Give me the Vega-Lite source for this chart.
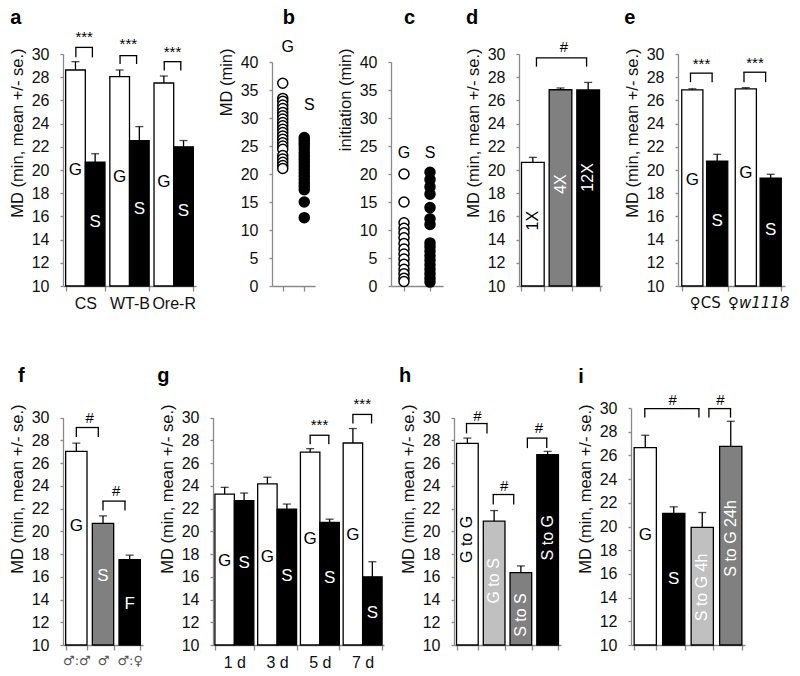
{
"$schema":"https://vega.github.io/schema/vega-lite/v6.json",
"padding":{"left":9,"top":7,"right":5,"bottom":5},
"background":"white",
"config":{
 "font":"Liberation Sans",
 "view":{"stroke":null},
 "axis":{"labelFont":"Liberation Sans","titleFont":"Liberation Sans","labelFontSize":16,"titleFontSize":16.5,"titleFontWeight":"normal","labelColor":"#111","titleColor":"#111","domainColor":"#8a8a8a","tickColor":"#8a8a8a","domainWidth":1.3,"tickWidth":1.3,"grid":false,"labelOverlap":false},
 "axisQuantitative":{"labelOverlap":false},
 "axisY":{"tickSize":3,"labelPadding":11,"titlePadding":6,"labelOverlap":false},
 "axisX":{"tickSize":5,"labelPadding":4,"titlePadding":4,"labelAngle":0},
 "text":{"font":"Liberation Sans"}
},
"resolve":{"scale":{"fill":"independent","color":"independent","xOffset":"independent"}},
"spacing":55,
"vconcat":[
{"hconcat":[
 {"width":133,"height":232,
  "layer":[
   {"data":{"values":[
     {"cat":"CS","grp":"G","v":28.62,"e":29.34,"ly":19.96},
     {"cat":"CS","grp":"S","v":20.67,"e":21.4,"ly":15.5},
     {"cat":"WT-B","grp":"G","v":28.05,"e":28.62,"ly":19.4},
     {"cat":"WT-B","grp":"S","v":22.54,"e":23.74,"ly":16.65},
     {"cat":"Ore-R","grp":"G","v":27.5,"e":28.1,"ly":19.0},
     {"cat":"Ore-R","grp":"S","v":22.0,"e":22.54,"ly":16.5}]},
    "encoding":{
     "x":{"field":"cat","type":"nominal","scale":{"domain":["CS","WT-B","Ore-R"],"paddingInner":0.11,"paddingOuter":0.06},"axis":{"title":null,"tickBand":"extent"}},
     "xOffset":{"field":"grp","type":"nominal","scale":{"domain":["G","S"],"paddingInner":0,"paddingOuter":0}}},
    "layer":[
     {"mark":{"type":"bar","stroke":"black","strokeWidth":1.3},
      "encoding":{"y":{"field":"v","type":"quantitative","stack":null,"scale":{"domain":[10,30],"nice":false,"zero":false},"axis":{"tickCount":10,"labelOverlap":false,"title":"MD (min, mean +/- se.)","titleAnchor":"end","titleY":-6}},
       "y2":{"datum":10},
       "fill":{"field":"grp","type":"nominal","scale":{"domain":["G","S"],"range":["#ffffff","#000000"]},"legend":null}}},
     {"mark":{"type":"rule","color":"black","strokeWidth":1.3},"encoding":{"y":{"field":"v","type":"quantitative"},"y2":{"field":"e"}}},
     {"mark":{"type":"tick","color":"black","thickness":1.3,"size":8},"encoding":{"y":{"field":"e","type":"quantitative"}}},
     {"mark":{"type":"text","fontSize":17},"encoding":{"y":{"field":"ly","type":"quantitative"},"text":{"field":"grp"},"color":{"field":"grp","type":"nominal","scale":{"domain":["G","S"],"range":["#000000","#ffffff"]},"legend":null}}}
    ]},
   {"data":{"values":[
     {"cat":"CS","top":30.57,"bot":29.71,"sy":31.43},
     {"cat":"WT-B","top":29.86,"bot":29.14,"sy":30.86},
     {"cat":"Ore-R","top":29.34,"bot":28.57,"sy":30.14}]},
    "layer":[
     {"mark":{"type":"rule","color":"black","strokeWidth":1.3,"strokeCap":"square"},"encoding":{"x":{"field":"cat","type":"nominal","bandPosition":0.26,"title":null},"x2":{"field":"cat","bandPosition":0.68},"y":{"field":"top","type":"quantitative"}}},
     {"mark":{"type":"rule","color":"black","strokeWidth":1.3},"encoding":{"x":{"field":"cat","type":"nominal","bandPosition":0.26,"title":null},"y":{"field":"top","type":"quantitative"},"y2":{"field":"bot"}}},
     {"mark":{"type":"rule","color":"black","strokeWidth":1.3},"encoding":{"x":{"field":"cat","type":"nominal","bandPosition":0.68,"title":null},"y":{"field":"top","type":"quantitative"},"y2":{"field":"bot"}}},
     {"mark":{"type":"text","fontSize":15,"text":"***"},"encoding":{"x":{"field":"cat","type":"nominal","bandPosition":0.47,"title":null},"y":{"field":"sy","type":"quantitative"}}}
    ]},
   {"data":{"values":[{"lab":"a"}]},
    "mark":{"type":"text","fontSize":20,"fontWeight":"bold","align":"left","baseline":"alphabetic"},
    "encoding":{"text":{"field":"lab"},"x":{"datum":"CS","type":"nominal","bandPosition":-1.41},"y":{"datum":32.61,"type":"quantitative"}}}
  ]},
 {"width":43,"height":232,
  "layer":[
   {"data":{"values":[
     {"grp":"G","v":36.2},{"grp":"G","v":33.5},{"grp":"G","v":33.0},{"grp":"G","v":32.3},{"grp":"G","v":31.7},{"grp":"G","v":31.0},{"grp":"G","v":30.4},{"grp":"G","v":29.8},{"grp":"G","v":29.2},{"grp":"G","v":28.6},{"grp":"G","v":28.0},{"grp":"G","v":27.4},{"grp":"G","v":26.8},{"grp":"G","v":26.2},{"grp":"G","v":25.6},{"grp":"G","v":25.0},{"grp":"G","v":24.4},{"grp":"G","v":23.3},{"grp":"G","v":22.7},{"grp":"G","v":22.1},{"grp":"G","v":21.5},{"grp":"G","v":21.0},
     {"grp":"S","v":26.5},{"grp":"S","v":26.0},{"grp":"S","v":25.5},{"grp":"S","v":25.0},{"grp":"S","v":24.4},{"grp":"S","v":23.8},{"grp":"S","v":23.2},{"grp":"S","v":22.6},{"grp":"S","v":22.0},{"grp":"S","v":21.4},{"grp":"S","v":20.8},{"grp":"S","v":20.2},{"grp":"S","v":19.6},{"grp":"S","v":19.0},{"grp":"S","v":18.4},{"grp":"S","v":17.8},{"grp":"S","v":17.2},{"grp":"S","v":15.0},{"grp":"S","v":12.2}]},
    "mark":{"type":"point","shape":"circle","filled":true,"stroke":"black","strokeWidth":1.5,"size":100,"opacity":1},
    "encoding":{
     "x":{"field":"grp","type":"nominal","scale":{"domain":["G","S"],"paddingInner":0,"paddingOuter":0.5},"axis":{"labels":false,"title":"CS"}},
     "y":{"field":"v","type":"quantitative","scale":{"domain":[0,40],"nice":false,"range":[232,8]},"axis":{"tickCount":8,"labelOverlap":false,"title":"MD (min)","titleAnchor":"end","titleY":-6}},
     "fill":{"field":"grp","type":"nominal","scale":{"domain":["G","S"],"range":["#ffffff","#000000"]},"legend":null}}},
   {"data":{"values":[{"grp":"G","ly":42.6},{"grp":"S","ly":32.3}]},
    "mark":{"type":"text","fontSize":16,"dx":5},
    "encoding":{"x":{"field":"grp","type":"nominal","title":null},"y":{"field":"ly","type":"quantitative"},"text":{"field":"grp"}}},
   {"data":{"values":[{"lab":"b"}]},
    "mark":{"type":"text","fontSize":20,"fontWeight":"bold","align":"left","baseline":"alphabetic"},
    "encoding":{"text":{"field":"lab"},"x":{"datum":"G","type":"nominal","bandPosition":-4.27},"y":{"datum":46.84,"type":"quantitative"}}}
  ]},
 {"width":52,"height":232,
  "layer":[
   {"data":{"values":[
     {"grp":"G","v":20.0},{"grp":"G","v":15.0},{"grp":"G","v":11.3},{"grp":"G","v":10.3},{"grp":"G","v":9.5},{"grp":"G","v":8.6},{"grp":"G","v":7.6},{"grp":"G","v":6.6},{"grp":"G","v":5.7},{"grp":"G","v":4.8},{"grp":"G","v":3.9},{"grp":"G","v":3.0},{"grp":"G","v":2.2},{"grp":"G","v":1.4},{"grp":"G","v":0.8},
     {"grp":"S","v":20.3},{"grp":"S","v":19.0},{"grp":"S","v":17.7},{"grp":"S","v":16.4},{"grp":"S","v":14.0},{"grp":"S","v":12.0},{"grp":"S","v":11.0},{"grp":"S","v":7.7},{"grp":"S","v":7.0},{"grp":"S","v":6.2},{"grp":"S","v":5.4},{"grp":"S","v":4.6},{"grp":"S","v":3.8},{"grp":"S","v":3.0},{"grp":"S","v":2.2},{"grp":"S","v":1.4},{"grp":"S","v":0.7}]},
    "mark":{"type":"point","shape":"circle","filled":true,"stroke":"black","strokeWidth":1.5,"size":100,"opacity":1},
    "encoding":{
     "x":{"field":"grp","type":"nominal","scale":{"domain":["G","S"],"paddingInner":0,"paddingOuter":0.5},"axis":{"labels":false,"title":"CS"}},
     "y":{"field":"v","type":"quantitative","scale":{"domain":[0,40],"nice":false,"range":[232,8]},"axis":{"tickCount":8,"labelOverlap":false,"title":"initiation (min)","titleAnchor":"end","titleY":-6}},
     "fill":{"field":"grp","type":"nominal","scale":{"domain":["G","S"],"range":["#ffffff","#000000"]},"legend":null}}},
   {"data":{"values":[{"grp":"G","ly":23.8},{"grp":"S","ly":23.8}]},
    "mark":{"type":"text","fontSize":16},
    "encoding":{"x":{"field":"grp","type":"nominal","title":null},"y":{"field":"ly","type":"quantitative"},"text":{"field":"grp"}}},
   {"data":{"values":[{"lab":"c"}]},
    "mark":{"type":"text","fontSize":20,"fontWeight":"bold","align":"left","baseline":"alphabetic"},
    "encoding":{"text":{"field":"lab"},"x":{"datum":"G","type":"nominal","bandPosition":-3.38},"y":{"datum":46.84,"type":"quantitative"}}}
  ]},
 {"width":83,"height":232,
  "layer":[
   {"data":{"values":[
     {"cat":"1X","v":20.66,"e":21.09,"ly":15.63},
     {"cat":"4X","v":26.92,"e":27.07,"ly":18.79},
     {"cat":"12X","v":26.9,"e":27.55,"ly":19.36}]},
    "encoding":{"x":{"field":"cat","type":"nominal","scale":{"domain":["1X","4X","12X"],"paddingInner":0.18,"paddingOuter":0.09},"axis":{"title":"CS","labels":false,"tickBand":"extent"}}},
    "layer":[
     {"mark":{"type":"bar","stroke":"black","strokeWidth":1.3},
      "encoding":{"y":{"field":"v","type":"quantitative","stack":null,"scale":{"domain":[10,30],"nice":false,"zero":false},"axis":{"tickCount":10,"labelOverlap":false,"title":"MD (min, mean +/- se.)","titleAnchor":"end","titleY":-6}},
       "y2":{"datum":10},
       "fill":{"field":"cat","type":"nominal","scale":{"domain":["1X","4X","12X"],"range":["#ffffff","#808080","#000000"]},"legend":null}}},
     {"mark":{"type":"rule","color":"black","strokeWidth":1.3},"encoding":{"y":{"field":"v","type":"quantitative"},"y2":{"field":"e"}}},
     {"mark":{"type":"tick","color":"black","thickness":1.3,"size":8},"encoding":{"y":{"field":"e","type":"quantitative"}}},
     {"mark":{"type":"text","fontSize":16,"angle":270},"encoding":{"y":{"field":"ly","type":"quantitative"},"text":{"field":"cat"},"color":{"field":"cat","type":"nominal","scale":{"domain":["1X","4X","12X"],"range":["#000000","#ffffff","#ffffff"]},"legend":null}}}
    ]},
   {"data":{"values":[{"from":"1X","to":"12X","top":29.66,"bot":28.91,"sy":30.57}]},
    "layer":[
     {"mark":{"type":"rule","color":"black","strokeWidth":1.3,"strokeCap":"square"},"encoding":{"x":{"field":"from","type":"nominal","bandPosition":0.66,"title":null},"x2":{"field":"to","bandPosition":0.43},"y":{"field":"top","type":"quantitative"}}},
     {"mark":{"type":"rule","color":"black","strokeWidth":1.3},"encoding":{"x":{"field":"from","type":"nominal","bandPosition":0.66,"title":null},"y":{"field":"top","type":"quantitative"},"y2":{"field":"bot"}}},
     {"mark":{"type":"rule","color":"black","strokeWidth":1.3},"encoding":{"x":{"field":"to","type":"nominal","bandPosition":0.43,"title":null},"y":{"field":"top","type":"quantitative"},"y2":{"field":"bot"}}},
     {"mark":{"type":"text","fontSize":15,"text":"#"},"encoding":{"x":{"field":"from","type":"nominal","bandPosition":1.87,"title":null},"y":{"field":"sy","type":"quantitative"}}}
    ]},
   {"data":{"values":[{"lab":"d"}]},
    "mark":{"type":"text","fontSize":20,"fontWeight":"bold","align":"left","baseline":"alphabetic"},
    "encoding":{"text":{"field":"lab"},"x":{"datum":"1X","type":"nominal","bandPosition":-2.45},"y":{"datum":32.61,"type":"quantitative"}}}
  ]},
 {"width":107,"height":232,
  "layer":[
   {"data":{"values":[
     {"cat":"♀CS","grp":"G","v":26.9,"e":27.0,"ly":19.1},
     {"cat":"♀CS","grp":"S","v":20.77,"e":21.35,"ly":15.6},
     {"cat":"♀w1118","grp":"G","v":27.0,"e":27.1,"ly":19.7},
     {"cat":"♀w1118","grp":"S","v":19.29,"e":19.63,"ly":14.86}]},
    "encoding":{
     "x":{"field":"cat","type":"nominal","scale":{"domain":["♀CS","♀w1118"],"paddingInner":0.14,"paddingOuter":0.07},"axis":{"title":null,"tickBand":"extent","labelFont":"DejaVu Sans","labelFontSize":15,"labelFontStyle":{"condition":{"test":"datum.value == '♀w1118'","value":"italic"},"value":"normal"}}},
     "xOffset":{"field":"grp","type":"nominal","scale":{"domain":["G","S"],"paddingInner":0.15,"paddingOuter":0}}},
    "layer":[
     {"mark":{"type":"bar","stroke":"black","strokeWidth":1.3},
      "encoding":{"y":{"field":"v","type":"quantitative","stack":null,"scale":{"domain":[10,30],"nice":false,"zero":false},"axis":{"tickCount":10,"labelOverlap":false,"title":"MD (min, mean +/- se.)","titleAnchor":"end","titleY":-6}},
       "y2":{"datum":10},
       "fill":{"field":"grp","type":"nominal","scale":{"domain":["G","S"],"range":["#ffffff","#000000"]},"legend":null}}},
     {"mark":{"type":"rule","color":"black","strokeWidth":1.3},"encoding":{"y":{"field":"v","type":"quantitative"},"y2":{"field":"e"}}},
     {"mark":{"type":"tick","color":"black","thickness":1.3,"size":8},"encoding":{"y":{"field":"e","type":"quantitative"}}},
     {"mark":{"type":"text","fontSize":17},"encoding":{"y":{"field":"ly","type":"quantitative"},"text":{"field":"grp"},"color":{"field":"grp","type":"nominal","scale":{"domain":["G","S"],"range":["#000000","#ffffff"]},"legend":null}}}
    ]},
   {"data":{"values":[
     {"cat":"♀CS","top":28.35,"bot":27.57,"sy":29.15},
     {"cat":"♀w1118","top":28.43,"bot":27.57,"sy":29.23}]},
    "layer":[
     {"mark":{"type":"rule","color":"black","strokeWidth":1.3,"strokeCap":"square"},"encoding":{"x":{"field":"cat","type":"nominal","bandPosition":0.19,"title":null},"x2":{"field":"cat","bandPosition":0.66},"y":{"field":"top","type":"quantitative"}}},
     {"mark":{"type":"rule","color":"black","strokeWidth":1.3},"encoding":{"x":{"field":"cat","type":"nominal","bandPosition":0.19,"title":null},"y":{"field":"top","type":"quantitative"},"y2":{"field":"bot"}}},
     {"mark":{"type":"rule","color":"black","strokeWidth":1.3},"encoding":{"x":{"field":"cat","type":"nominal","bandPosition":0.66,"title":null},"y":{"field":"top","type":"quantitative"},"y2":{"field":"bot"}}},
     {"mark":{"type":"text","fontSize":15,"text":"***"},"encoding":{"x":{"field":"cat","type":"nominal","bandPosition":0.43,"title":null},"y":{"field":"sy","type":"quantitative"}}}
    ]},
   {"data":{"values":[{"lab":"e"}]},
    "mark":{"type":"text","fontSize":20,"fontWeight":"bold","align":"left","baseline":"alphabetic"},
    "encoding":{"text":{"field":"lab"},"x":{"datum":"♀CS","type":"nominal","bandPosition":-1.25},"y":{"datum":32.61,"type":"quantitative"}}}
  ]}
],"spacing":76,"bounds":"flush","resolve":{"scale":{"fill":"independent","color":"independent","xOffset":"independent"}}},
{"hconcat":[
 {"width":80,"height":237,
  "layer":[
   {"data":{"values":[
     {"cat":"♂:♂","t":"G","v":27.03,"e":27.74,"ly":20.5},
     {"cat":"♂","t":"S","v":20.7,"e":21.35,"ly":16.1},
     {"cat":"♂:♀","t":"F","v":17.5,"e":17.9,"ly":13.6}]},
    "encoding":{"x":{"field":"cat","type":"nominal","scale":{"domain":["♂:♂","♂","♂:♀"],"paddingInner":0.2,"paddingOuter":0.1},"axis":{"title":null,"tickBand":"extent","labelFontSize":13,"labelColor":"#555","labelFont":"DejaVu Sans"}}},
    "layer":[
     {"mark":{"type":"bar","stroke":"black","strokeWidth":1.3},
      "encoding":{"y":{"field":"v","type":"quantitative","stack":null,"scale":{"domain":[10,30],"nice":false,"zero":false,"range":[237,9.5]},"axis":{"tickCount":10,"labelOverlap":false,"title":"MD (min, mean +/- se.)","titleAnchor":"end","titleY":-4}},
       "y2":{"datum":10},
       "fill":{"field":"cat","type":"nominal","scale":{"domain":["♂:♂","♂","♂:♀"],"range":["#ffffff","#808080","#000000"]},"legend":null}}},
     {"mark":{"type":"rule","color":"black","strokeWidth":1.3},"encoding":{"y":{"field":"v","type":"quantitative"},"y2":{"field":"e"}}},
     {"mark":{"type":"tick","color":"black","thickness":1.3,"size":8},"encoding":{"y":{"field":"e","type":"quantitative"}}},
     {"mark":{"type":"text","fontSize":17},"encoding":{"y":{"field":"ly","type":"quantitative"},"text":{"field":"t"},"color":{"field":"cat","type":"nominal","scale":{"domain":["♂:♂","♂","♂:♀"],"range":["#000000","#ffffff","#ffffff"]},"legend":null}}}
    ]},
   {"data":{"values":[
     {"from":"♂:♂","to":"♂","top":29.12,"bot":28.29,"sy":30.0},
     {"from":"♂","to":"♂:♀","top":22.65,"bot":21.82,"sy":23.53}]},
    "layer":[
     {"mark":{"type":"rule","color":"black","strokeWidth":1.3,"strokeCap":"square"},"encoding":{"x":{"field":"from","type":"nominal","bandPosition":0.5,"title":null},"x2":{"field":"to","bandPosition":0.28},"y":{"field":"top","type":"quantitative"}}},
     {"mark":{"type":"rule","color":"black","strokeWidth":1.3},"encoding":{"x":{"field":"from","type":"nominal","bandPosition":0.5,"title":null},"y":{"field":"top","type":"quantitative"},"y2":{"field":"bot"}}},
     {"mark":{"type":"rule","color":"black","strokeWidth":1.3},"encoding":{"x":{"field":"to","type":"nominal","bandPosition":0.28,"title":null},"y":{"field":"top","type":"quantitative"},"y2":{"field":"bot"}}},
     {"mark":{"type":"text","fontSize":15,"text":"#"},"encoding":{"x":{"field":"from","type":"nominal","bandPosition":1.12,"title":null},"y":{"field":"sy","type":"quantitative"}}}
    ]},
   {"data":{"values":[{"lab":"f"}]},
    "mark":{"type":"text","fontSize":20,"fontWeight":"bold","align":"left","baseline":"alphabetic"},
    "encoding":{"text":{"field":"lab"},"x":{"datum":"♂:♂","type":"nominal","bandPosition":-2.23},"y":{"datum":33.08,"type":"quantitative"}}}
  ]},
 {"width":171,"height":237,
  "layer":[
   {"data":{"values":[
     {"cat":"1 d","grp":"G","v":23.27,"e":23.86,"ly":17.4},
     {"cat":"1 d","grp":"S","v":22.68,"e":23.36,"ly":17.2},
     {"cat":"3 d","grp":"G","v":24.16,"e":24.75,"ly":17.7},
     {"cat":"3 d","grp":"S","v":21.95,"e":22.39,"ly":16.05},
     {"cat":"5 d","grp":"G","v":26.96,"e":27.26,"ly":19.3},
     {"cat":"5 d","grp":"S","v":20.77,"e":21.06,"ly":15.9},
     {"cat":"7 d","grp":"G","v":27.76,"e":29.03,"ly":19.7},
     {"cat":"7 d","grp":"S","v":15.99,"e":17.32,"ly":12.8}]},
    "encoding":{
     "x":{"field":"cat","type":"nominal","scale":{"domain":["1 d","3 d","5 d","7 d"],"paddingInner":0.09,"paddingOuter":0.045},"axis":{"title":null,"tickBand":"extent"}},
     "xOffset":{"field":"grp","type":"nominal","scale":{"domain":["G","S"],"paddingInner":0,"paddingOuter":0}}},
    "layer":[
     {"mark":{"type":"bar","stroke":"black","strokeWidth":1.3},
      "encoding":{"y":{"field":"v","type":"quantitative","stack":null,"scale":{"domain":[10,30],"nice":false,"zero":false,"range":[237,9.5]},"axis":{"tickCount":10,"labelOverlap":false,"title":"MD (min, mean +/- se.)","titleAnchor":"end","titleY":-4}},
       "y2":{"datum":10},
       "fill":{"field":"grp","type":"nominal","scale":{"domain":["G","S"],"range":["#ffffff","#000000"]},"legend":null}}},
     {"mark":{"type":"rule","color":"black","strokeWidth":1.3},"encoding":{"y":{"field":"v","type":"quantitative"},"y2":{"field":"e"}}},
     {"mark":{"type":"tick","color":"black","thickness":1.3,"size":8},"encoding":{"y":{"field":"e","type":"quantitative"}}},
     {"mark":{"type":"text","fontSize":17},"encoding":{"y":{"field":"ly","type":"quantitative"},"text":{"field":"grp"},"color":{"field":"grp","type":"nominal","scale":{"domain":["G","S"],"range":["#000000","#ffffff"]},"legend":null}}}
    ]},
   {"data":{"values":[
     {"cat":"5 d","top":28.44,"bot":27.64,"sy":29.3},
     {"cat":"7 d","top":30.27,"bot":29.47,"sy":31.2}]},
    "layer":[
     {"mark":{"type":"rule","color":"black","strokeWidth":1.3,"strokeCap":"square"},"encoding":{"x":{"field":"cat","type":"nominal","bandPosition":0.25,"title":null},"x2":{"field":"cat","bandPosition":0.73},"y":{"field":"top","type":"quantitative"}}},
     {"mark":{"type":"rule","color":"black","strokeWidth":1.3},"encoding":{"x":{"field":"cat","type":"nominal","bandPosition":0.25,"title":null},"y":{"field":"top","type":"quantitative"},"y2":{"field":"bot"}}},
     {"mark":{"type":"rule","color":"black","strokeWidth":1.3},"encoding":{"x":{"field":"cat","type":"nominal","bandPosition":0.73,"title":null},"y":{"field":"top","type":"quantitative"},"y2":{"field":"bot"}}},
     {"mark":{"type":"text","fontSize":15,"text":"***"},"encoding":{"x":{"field":"cat","type":"nominal","bandPosition":0.49,"title":null},"y":{"field":"sy","type":"quantitative"}}}
    ]},
   {"data":{"values":[{"lab":"g"}]},
    "mark":{"type":"text","fontSize":20,"fontWeight":"bold","align":"left","baseline":"alphabetic"},
    "encoding":{"text":{"field":"lab"},"x":{"datum":"1 d","type":"nominal","bandPosition":-1.48},"y":{"datum":33.08,"type":"quantitative"}}}
  ]},
 {"width":107,"height":237,
  "layer":[
   {"data":{"values":[
     {"cat":"G to G","v":27.72,"e":28.19,"ly":19.28},
     {"cat":"G to S","v":20.89,"e":21.82,"ly":15.64},
     {"cat":"S to S","v":16.36,"e":16.95,"ly":12.63},
     {"cat":"S to G","v":26.73,"e":27.02,"ly":19.43}]},
    "encoding":{"x":{"field":"cat","type":"nominal","scale":{"domain":["G to G","G to S","S to S","S to G"],"paddingInner":0.19,"paddingOuter":0.095},"axis":{"title":"total 10 d","labels":false,"tickBand":"extent"}}},
    "layer":[
     {"mark":{"type":"bar","stroke":"black","strokeWidth":1.3},
      "encoding":{"y":{"field":"v","type":"quantitative","stack":null,"scale":{"domain":[10,30],"nice":false,"zero":false,"range":[237,9.5]},"axis":{"tickCount":10,"labelOverlap":false,"title":"MD (min, mean +/- se.)","titleAnchor":"end","titleY":-4}},
       "y2":{"datum":10},
       "fill":{"field":"cat","type":"nominal","scale":{"domain":["G to G","G to S","S to S","S to G"],"range":["#ffffff","#c0c0c0","#808080","#000000"]},"legend":null}}},
     {"mark":{"type":"rule","color":"black","strokeWidth":1.3},"encoding":{"y":{"field":"v","type":"quantitative"},"y2":{"field":"e"}}},
     {"mark":{"type":"tick","color":"black","thickness":1.3,"size":8},"encoding":{"y":{"field":"e","type":"quantitative"}}},
     {"mark":{"type":"text","fontSize":16,"angle":270},"encoding":{"y":{"field":"ly","type":"quantitative"},"text":{"field":"cat"},"color":{"field":"cat","type":"nominal","scale":{"domain":["G to G","G to S","S to S","S to G"],"range":["#000000","#ffffff","#ffffff","#ffffff"]},"legend":null}}}
    ]},
   {"data":{"values":[
     {"from":"G to G","to":"G to S","top":29.47,"bot":28.6,"sy":30.15},
     {"from":"G to S","to":"S to S","top":23.23,"bot":22.35,"sy":24.0}]},
    "layer":[
     {"mark":{"type":"rule","color":"black","strokeWidth":1.3,"strokeCap":"square"},"encoding":{"x":{"field":"from","type":"nominal","bandPosition":0.46,"title":null},"x2":{"field":"to","bandPosition":0.17},"y":{"field":"top","type":"quantitative"}}},
     {"mark":{"type":"rule","color":"black","strokeWidth":1.3},"encoding":{"x":{"field":"from","type":"nominal","bandPosition":0.46,"title":null},"y":{"field":"top","type":"quantitative"},"y2":{"field":"bot"}}},
     {"mark":{"type":"rule","color":"black","strokeWidth":1.3},"encoding":{"x":{"field":"to","type":"nominal","bandPosition":0.17,"title":null},"y":{"field":"top","type":"quantitative"},"y2":{"field":"bot"}}},
     {"mark":{"type":"text","fontSize":15,"text":"#"},"encoding":{"x":{"field":"from","type":"nominal","bandPosition":0.96,"title":null},"y":{"field":"sy","type":"quantitative"}}}
    ]},
   {"data":{"values":[
     {"from":"S to S","to":"S to G","top":28.19,"bot":27.31,"sy":29.07}]},
    "layer":[
     {"mark":{"type":"rule","color":"black","strokeWidth":1.3,"strokeCap":"square"},"encoding":{"x":{"field":"from","type":"nominal","bandPosition":0.8,"title":null},"x2":{"field":"to","bandPosition":0.46},"y":{"field":"top","type":"quantitative"}}},
     {"mark":{"type":"rule","color":"black","strokeWidth":1.3},"encoding":{"x":{"field":"from","type":"nominal","bandPosition":0.8,"title":null},"y":{"field":"top","type":"quantitative"},"y2":{"field":"bot"}}},
     {"mark":{"type":"rule","color":"black","strokeWidth":1.3},"encoding":{"x":{"field":"to","type":"nominal","bandPosition":0.46,"title":null},"y":{"field":"top","type":"quantitative"},"y2":{"field":"bot"}}},
     {"mark":{"type":"text","fontSize":15,"text":"#"},"encoding":{"x":{"field":"from","type":"nominal","bandPosition":1.33,"title":null},"y":{"field":"sy","type":"quantitative"}}}
    ]},
   {"data":{"values":[{"lab":"h"}]},
    "mark":{"type":"text","fontSize":20,"fontWeight":"bold","align":"left","baseline":"alphabetic"},
    "encoding":{"text":{"field":"lab"},"x":{"datum":"G to G","type":"nominal","bandPosition":-2.66},"y":{"datum":33.08,"type":"quantitative"}}}
  ]},
 {"width":114,"height":237,
  "layer":[
   {"data":{"values":[
     {"cat":"G","v":26.66,"e":27.7,"ly":19.27},
     {"cat":"S","v":21.1,"e":21.66,"ly":15.53},
     {"cat":"S to G 4h","v":19.92,"e":21.18,"ly":14.86},
     {"cat":"S to G 24h","v":26.77,"e":28.88,"ly":18.99}]},
    "encoding":{"x":{"field":"cat","type":"nominal","scale":{"domain":["G","S","S to G 4h","S to G 24h"],"paddingInner":0.22,"paddingOuter":0.11},"axis":{"title":"CS 5 d","labels":false,"tickBand":"extent"}}},
    "layer":[
     {"mark":{"type":"bar","stroke":"black","strokeWidth":1.3},
      "encoding":{"y":{"field":"v","type":"quantitative","stack":null,"scale":{"domain":[10,30],"nice":false,"zero":false},"axis":{"tickCount":10,"labelOverlap":false,"title":"MD (min, mean +/- se.)","titleAnchor":"end","titleY":-4}},
       "y2":{"datum":10},
       "fill":{"field":"cat","type":"nominal","scale":{"domain":["G","S","S to G 4h","S to G 24h"],"range":["#ffffff","#000000","#c0c0c0","#808080"]},"legend":null}}},
     {"mark":{"type":"rule","color":"black","strokeWidth":1.3},"encoding":{"y":{"field":"v","type":"quantitative"},"y2":{"field":"e"}}},
     {"mark":{"type":"tick","color":"black","thickness":1.3,"size":8},"encoding":{"y":{"field":"e","type":"quantitative"}}},
     {"transform":[{"filter":"datum.cat == 'G' || datum.cat == 'S'"}],
      "mark":{"type":"text","fontSize":17},"encoding":{"y":{"field":"ly","type":"quantitative"},"text":{"field":"cat"},"color":{"field":"cat","type":"nominal","scale":{"domain":["G","S","S to G 4h","S to G 24h"],"range":["#000000","#ffffff","#ffffff","#ffffff"]},"legend":null}}},
     {"transform":[{"filter":"datum.cat != 'G' && datum.cat != 'S'"}],
      "mark":{"type":"text","fontSize":16,"angle":270},"encoding":{"y":{"field":"ly","type":"quantitative"},"text":{"field":"cat"},"color":{"field":"cat","type":"nominal","legend":null}}}
    ]},
   {"data":{"values":[
     {"from":"G","to":"S to G 4h","top":29.95,"bot":29.19,"sy":30.7}]},
    "layer":[
     {"mark":{"type":"rule","color":"black","strokeWidth":1.3,"strokeCap":"square"},"encoding":{"x":{"field":"from","type":"nominal","bandPosition":0.48,"title":null},"x2":{"field":"to","bandPosition":0.35},"y":{"field":"top","type":"quantitative"}}},
     {"mark":{"type":"rule","color":"black","strokeWidth":1.3},"encoding":{"x":{"field":"from","type":"nominal","bandPosition":0.48,"title":null},"y":{"field":"top","type":"quantitative"},"y2":{"field":"bot"}}},
     {"mark":{"type":"rule","color":"black","strokeWidth":1.3},"encoding":{"x":{"field":"to","type":"nominal","bandPosition":0.35,"title":null},"y":{"field":"top","type":"quantitative"},"y2":{"field":"bot"}}},
     {"mark":{"type":"text","fontSize":15,"text":"#"},"encoding":{"x":{"field":"from","type":"nominal","bandPosition":1.73,"title":null},"y":{"field":"sy","type":"quantitative"}}}
    ]},
   {"data":{"values":[
     {"from":"S to G 4h","to":"S to G 24h","top":29.95,"bot":29.19,"sy":30.7}]},
    "layer":[
     {"mark":{"type":"rule","color":"black","strokeWidth":1.3,"strokeCap":"square"},"encoding":{"x":{"field":"from","type":"nominal","bandPosition":0.8,"title":null},"x2":{"field":"to","bandPosition":0.49},"y":{"field":"top","type":"quantitative"}}},
     {"mark":{"type":"rule","color":"black","strokeWidth":1.3},"encoding":{"x":{"field":"from","type":"nominal","bandPosition":0.8,"title":null},"y":{"field":"top","type":"quantitative"},"y2":{"field":"bot"}}},
     {"mark":{"type":"rule","color":"black","strokeWidth":1.3},"encoding":{"x":{"field":"to","type":"nominal","bandPosition":0.49,"title":null},"y":{"field":"top","type":"quantitative"},"y2":{"field":"bot"}}},
     {"mark":{"type":"text","fontSize":15,"text":"#"},"encoding":{"x":{"field":"from","type":"nominal","bandPosition":1.32,"title":null},"y":{"field":"sy","type":"quantitative"}}}
    ]},
   {"data":{"values":[{"lab":"i"}]},
    "mark":{"type":"text","fontSize":20,"fontWeight":"bold","align":"left","baseline":"alphabetic"},
    "encoding":{"text":{"field":"lab"},"x":{"datum":"G","type":"nominal","bandPosition":-2.51},"y":{"datum":32.15,"type":"quantitative"}}}
  ]}
],"spacing":70,"bounds":"flush","resolve":{"scale":{"fill":"independent","color":"independent","xOffset":"independent"}}}
]
}
